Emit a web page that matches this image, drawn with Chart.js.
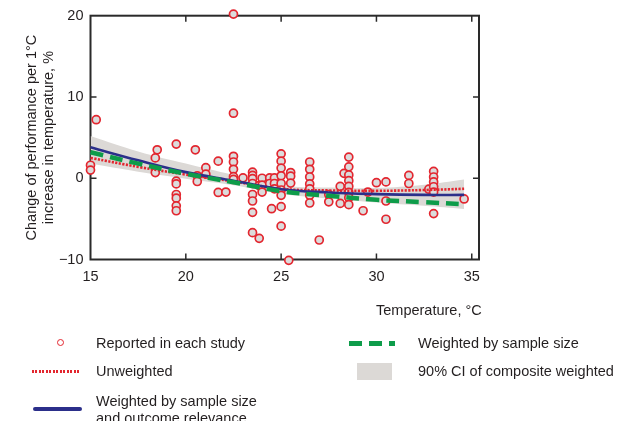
<!DOCTYPE html>
<html lang="en">
<head>
<meta charset="UTF-8">
<title>Performance vs temperature</title>
<script src="https://cdn.jsdelivr.net/npm/chart.js"></script>
<style>
  body { margin: 0; background: #fff; }
  .wrap { position: relative; width: 621px; height: 421px; overflow: hidden;
          font-family: "Liberation Sans", Arial, sans-serif; color: #231f20; }
  #grafico { position: absolute; left: 0; top: 0; }
  .txt { position: absolute; font-size: 14.5px; line-height: 17px; white-space: nowrap; }
  .sym { position: absolute; }
</style>
</head>
<body>
<div class="wrap">
  <canvas id="grafico" width="621" height="421"></canvas>

  <div class="txt" style="left:376px; top:302px;">Temperature, °C</div>

  <div class="sym" style="left:57px; top:339px; width:5px; height:5px; border:1.6px solid #e3262f; border-radius:50%; background:#fff;"></div>
  <div class="txt" style="left:96px; top:335px;">Reported in each study</div>

  <div class="sym" style="left:32px; top:370px; width:47px; height:3px; background:repeating-linear-gradient(90deg, #e3262f 0 2px, transparent 2px 3.5px);"></div>
  <div class="txt" style="left:96px; top:363px;">Unweighted</div>

  <div class="sym" style="left:33px; top:407px; width:49px; height:4px; border-radius:2px; background:#2b2f8a;"></div>
  <div class="txt" style="left:96px; top:393px;">Weighted by sample size<br>and outcome relevance</div>

  <div class="sym" style="left:349px; top:341px; width:46px; height:4.5px; background:repeating-linear-gradient(90deg, #0e9c4a 0 13px, transparent 13px 20px);"></div>
  <div class="txt" style="left:418px; top:335px;">Weighted by sample size</div>

  <div class="sym" style="left:357px; top:363px; width:35px; height:17px; background:#dcd9d6;"></div>
  <div class="txt" style="left:418px; top:363px;">90% CI of composite weighted</div>
</div>

<script>
// pontos reportados em cada estudo (temperatura, variação %)
const studyTemps = [
  15.3, 22.5, 22.5, 15.0, 15.0,
  18.5, 18.4, 18.4,
  19.5, 19.5, 19.5, 19.5, 19.5, 19.5, 19.5,
  20.5, 20.6, 20.6, 21.05, 21.05,
  21.7, 21.7, 22.1,
  22.5, 22.5, 22.5, 22.5, 22.5, 23.0,
  23.5, 23.5, 23.5, 23.5, 23.5, 23.5, 23.5, 23.5,
  23.85, 23.85, 24.0, 24.0, 24.0,
  24.4, 24.4, 24.65, 24.65, 24.65, 24.5,
  25.0, 25.0, 25.0, 25.0, 25.0, 25.0, 25.0, 25.0, 25.0,
  25.4, 25.5, 25.5, 25.5,
  26.5, 26.5, 26.5, 26.5, 26.5, 26.5, 26.5,
  27.0, 27.5, 27.5, 28.1, 28.1, 28.3,
  28.55, 28.55, 28.55, 28.55, 28.55, 28.55, 28.55, 28.55,
  29.3, 29.55, 30.0, 30.5, 30.5, 30.5,
  31.7, 31.7, 32.75,
  33.0, 33.0, 33.0, 33.0, 33.0, 33.0,
  34.6
];
const studyChanges = [
  7.2, 20.2, 8.0, 1.6, 1.0,
  3.5, 2.5, 0.7,
  4.2, -0.35, -0.7, -2.0, -2.45, -3.4, -4.0,
  3.5, 0.3, -0.4, 1.3, 0.5,
  2.1, -1.75, -1.7,
  2.7, 2.0, 1.1, 0.2, -0.15, 0.05,
  0.75, 0.35, -0.05, -0.65, -2.0, -2.8, -4.2, -6.7,
  -0.9, -7.4, 0.0, -0.85, -1.7,
  0.05, -0.65, 0.05, -0.65, -1.3, -3.75,
  3.0, 2.1, 1.25, 0.3, -0.65, -1.45, -2.1, -3.5, -5.9,
  -10.1, 0.7, 0.25, -0.6,
  2.0, 1.1, 0.15, -0.7, -1.3, -2.1, -3.05,
  -7.6, -2.0, -2.9, -1.0, -3.1, 0.6,
  2.6, 1.4, 0.4, -0.3, -1.0, -1.75, -2.4, -3.25,
  -4.0, -1.7, -0.55, -0.45, -2.8, -5.05,
  0.35, -0.65, -1.35,
  0.85, 0.15, -0.45, -1.05, -1.7, -4.35,
  -2.55
];

// curvas ajustadas
const fitTemps          = [15, 17.5, 20, 22.5, 25, 27.5, 30, 32.5, 34.6];
const unweighted        = [2.5, 1.4, 0.45, -0.4, -1.3, -1.5, -1.55, -1.45, -1.3];
const weightedSample    = [3.2, 1.8, 0.55, -0.5, -1.6, -2.15, -2.65, -2.95, -3.2];
const weightedRelevance = [3.8, 2.2, 0.75, -0.3, -1.35, -1.75, -1.95, -2.05, -2.05];
const ciUpper           = [5.2, 3.3, 1.8, 0.4, -0.9, -1.15, -1.2, -0.8, -0.15];
const ciLower           = [1.8, 0.8, -0.05, -0.85, -1.9, -2.5, -3.0, -3.4, -3.8];

const xTicks = [15, 20, 25, 30, 35];
const yTicks = [-10, 0, 10, 20];

const fonte = { family: '"Liberation Sans", Arial, sans-serif', size: 14.5 };

function pares(xs, ys) {
  return xs.map(function (x, i) { return { x: x, y: ys[i] }; });
}

// moldura e ticks para dentro, nos quatro lados
const moldura = {
  id: 'moldura',
  beforeDatasetsDraw(chart) {
    const ctx = chart.ctx;
    const a = chart.chartArea;
    const sx = chart.scales.x;
    const sy = chart.scales.y;
    ctx.save();
    ctx.strokeStyle = '#2a2a2a';
    ctx.lineWidth = 1.5;
    ctx.beginPath();
    xTicks.forEach(function (v) {
      const px = sx.getPixelForValue(v);
      if (px <= a.left + 1 || px >= a.right - 1) return;
      ctx.moveTo(px, a.bottom); ctx.lineTo(px, a.bottom - 6);
      ctx.moveTo(px, a.top); ctx.lineTo(px, a.top + 6);
    });
    yTicks.forEach(function (v) {
      const py = sy.getPixelForValue(v);
      if (py <= a.top + 1 || py >= a.bottom - 1) return;
      ctx.moveTo(a.left, py); ctx.lineTo(a.left + 6, py);
      ctx.moveTo(a.right, py); ctx.lineTo(a.right - 6, py);
    });
    ctx.stroke();
    ctx.lineWidth = 2;
    ctx.strokeRect(a.left, a.top, a.right - a.left, a.bottom - a.top);
    ctx.restore();
  }
};

const linha = { showLine: true, pointRadius: 0, tension: 0.4, fill: false, clip: false };

new Chart(document.getElementById('grafico'), {
  type: 'scatter',
  data: {
    datasets: [
      Object.assign({}, linha, {
        label: 'ci lower', data: pares(fitTemps, ciLower),
        borderWidth: 0, borderColor: 'rgba(0,0,0,0)', order: 6
      }),
      Object.assign({}, linha, {
        label: '90% CI of composite weighted', data: pares(fitTemps, ciUpper),
        borderWidth: 0, borderColor: 'rgba(0,0,0,0)',
        fill: '-1', backgroundColor: '#dcd9d6', order: 5
      }),
      {
        label: 'Reported in each study', data: pares(studyTemps, studyChanges),
        pointRadius: 4, pointBorderWidth: 1.7,
        pointBorderColor: '#e3262f', pointBackgroundColor: '#dcdcdc',
        clip: false, order: 4
      },
      Object.assign({}, linha, {
        label: 'Unweighted', data: pares(fitTemps, unweighted),
        borderColor: '#e3262f', borderWidth: 2.6, borderDash: [2.2, 1.4], order: 3
      }),
      Object.assign({}, linha, {
        label: 'Weighted by sample size and outcome relevance', data: pares(fitTemps, weightedRelevance),
        borderColor: '#2b2f8a', borderWidth: 2.6, order: 2
      }),
      Object.assign({}, linha, {
        label: 'Weighted by sample size', data: pares(fitTemps, weightedSample),
        borderColor: '#0e9c4a', borderWidth: 4.5, borderDash: [13, 7], order: 1
      })
    ]
  },
  options: {
    responsive: false,
    animation: false,
    layout: { padding: { left: 0, top: 13, right: 142, bottom: 131.5 } },
    plugins: { legend: { display: false }, tooltip: { enabled: false } },
    scales: {
      x: {
        type: 'linear', min: 15, max: 35.38,
        grid: { display: false, drawTicks: false },
        border: { display: false },
        afterBuildTicks: function (s) { s.ticks = xTicks.map(function (v) { return { value: v }; }); },
        afterFit: function (s) { s.height = 30; },
        ticks: { color: '#231f20', font: fonte, padding: 9, maxRotation: 0 }
      },
      y: {
        type: 'linear', min: -10, max: 20,
        grid: { display: false, drawTicks: false },
        border: { display: false },
        afterBuildTicks: function (s) { s.ticks = yTicks.map(function (v) { return { value: v }; }); },
        afterFit: function (s) { s.width = 90.5; },
        ticks: {
          color: '#231f20', font: fonte, padding: 7,
          callback: function (v) { return String(v).replace('-', '\u2212'); }
        },
        title: {
          display: true,
          text: ['Change of performance per 1°C', 'increase in temperature, %'],
          color: '#231f20',
          font: { family: fonte.family, size: 14.5, lineHeight: 1.18 },
          padding: { top: 23, bottom: 0 }
        }
      }
    }
  },
  plugins: [moldura]
});
</script>
</body>
</html>
